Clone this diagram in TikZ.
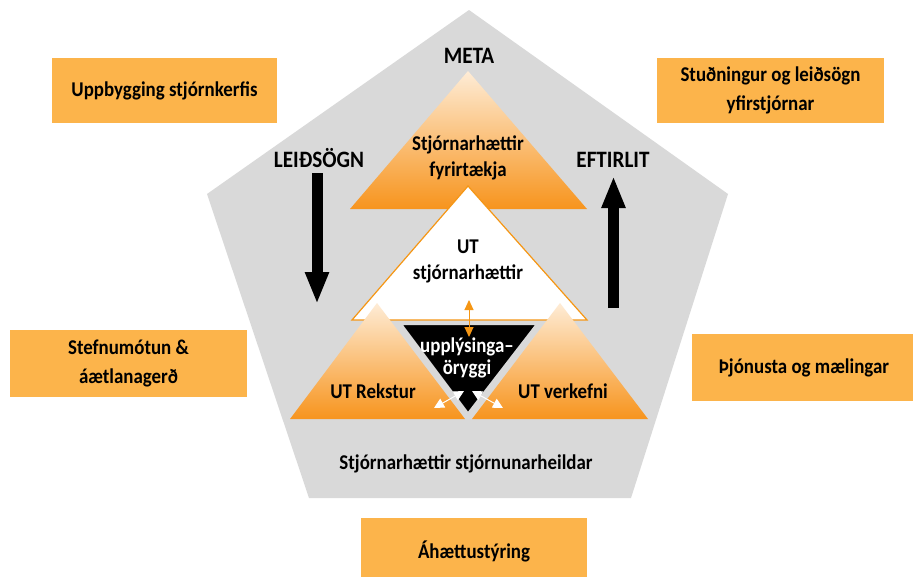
\documentclass[tikz,border=0pt]{standalone}
\usepackage{fontspec}
\setmainfont[FakeStretch=0.9]{Carlito}
\usetikzlibrary{arrows.meta}
\definecolor{pent}{RGB}{217,217,217}
\definecolor{boxor}{RGB}{252,180,75}
\definecolor{peach}{RGB}{254,236,214}
\definecolor{deepor}{RGB}{247,148,29}
\definecolor{lineor}{RGB}{245,150,20}
\begin{document}
\begin{tikzpicture}[x=1pt,y=-1pt,
  lbl/.style={font=\fontsize{21}{26}\selectfont\bfseries, align=center, inner sep=0pt},
  caplbl/.style={font=\fontsize{23.5}{26}\selectfont\bfseries, inner sep=0pt, anchor=base},
  obox/.style={fill=boxor, draw=none, inner sep=0pt, font=\fontsize{21}{29}\selectfont\bfseries, align=center},
  grad/.style={top color=peach, bottom color=deepor, draw=none},
  bigarrow/.style={line width=11pt, -{Triangle[width=22pt,length=32pt]}},
  smallor/.style={draw=lineor, line width=1pt, {Triangle[width=9pt,length=10pt]}-{Triangle[width=9pt,length=10pt]}},
  smallwh/.style={draw=white, line width=1pt, {Triangle[width=10pt,length=10pt]}-{Triangle[width=10pt,length=10pt]}}
]
\clip (0,0) rectangle (913,576);
\fill[white] (0,0) rectangle (913,576);

% pentagon
\fill[pent] (469,10) -- (728,194) -- (631,498) -- (309,498) -- (207,194) -- cycle;

% orange boxes
\node[obox, minimum width=225pt, minimum height=65pt] (b1) at (164.5,90.5) {Uppbygging stjórnkerfis};
\node[obox, minimum width=227pt, minimum height=65pt] (b2) at (770.5,90.5) {Stuðningur og leiðsögn\\yfirstjórnar};
\node[obox, minimum width=237pt, minimum height=67pt] (b3) at (128.5,363.5) {Stefnumótun \&\\áætlanagerð};
\node[obox, minimum width=224pt, minimum height=67pt] (b4) at (804,367.5) {Þjónusta og mælingar};
\node[obox, minimum width=226pt, minimum height=67pt] (b5) at (474,551.5) {Áhættustýring};

% top triangle
\shade[grad] (350,209) -- (587,209) -- (468,71) -- cycle;
% white triangle
\filldraw[fill=white, draw=lineor, line width=1.2pt] (352,320) -- (587,320) -- (468,186) -- cycle;
% bottom triangles
\shade[grad] (290,419) -- (465,419) -- (377,303) -- cycle;
\shade[grad] (472,419) -- (648,419) -- (560,303) -- cycle;
% black inverted triangle
\filldraw[fill=black, draw=pent, line width=4pt, line join=miter] (399,323) -- (539,323) -- (468,415) -- cycle;

% big arrows
\coordinate (ls) at (317,173);
\coordinate (le) at (317,304);
\coordinate (rs) at (613.5,308);
\coordinate (re) at (613.5,176);
\draw[bigarrow] (ls) -- (le);
\draw[bigarrow] (rs) -- (re);

% small arrows
\coordinate (o1) at (469,300);
\coordinate (o2) at (469,337);
\draw[smallor] (o1) -- (o2);
\coordinate (w1) at (464,391);
\coordinate (w2) at (434,408);
\coordinate (w3) at (472,391);
\coordinate (w4) at (503,408);
\draw[smallwh] (w1) -- (w2);
\draw[smallwh] (w3) -- (w4);

% labels
\node[caplbl] (meta) at (469,63) {META};
\node[caplbl] (leid) at (319,167) {LEIÐSÖGN};
\node[caplbl] (eft) at (613,167) {EFTIRLIT};
\node[lbl] (sf) at (468,158) {Stjórnarhættir\\fyrirtækja};
\node[lbl] (ut) at (468,261) {UT\\stjórnarhættir};
\node[lbl, text=white, font=\fontsize{21}{22}\selectfont\bfseries] (uo) at (467,358) {upplýsinga–\\öryggi};
\node[lbl, anchor=base] (utr) at (373,398) {UT Rekstur};
\node[lbl, anchor=base] (utv) at (563,398) {UT verkefni};
\node[lbl, anchor=base] (sh) at (466,469) {Stjórnarhættir stjórnunarheildar};
\end{tikzpicture}
\end{document}
